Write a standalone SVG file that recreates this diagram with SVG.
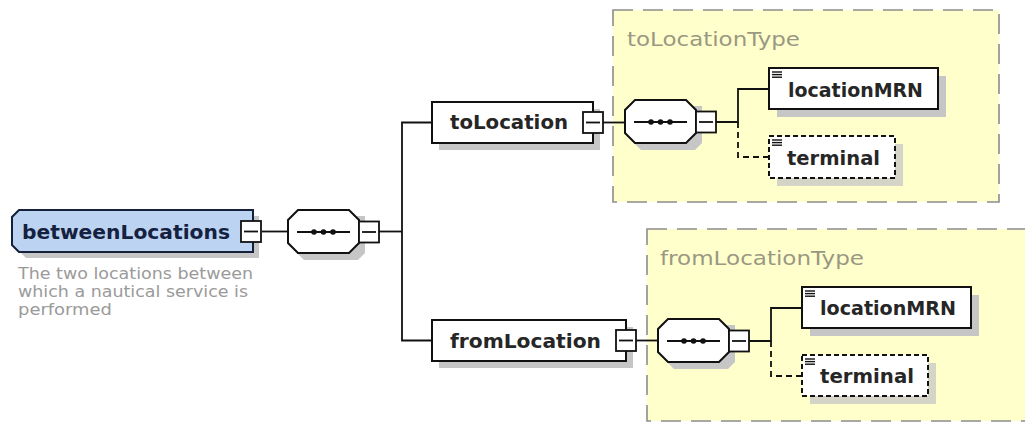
<svg xmlns="http://www.w3.org/2000/svg" width="1025" height="424" viewBox="0 0 1025 424">
  <style>
    .bg { fill: #ffffff; }
    .typebox { fill: #ffffcc; stroke: #8c8c8c; stroke-width: 1.6; stroke-dasharray: 20 10; }
    .typelabel { font-family: "DejaVu Sans", "Verdana", sans-serif; font-size: 20px; fill: #9a9882; }
    .el { fill: #ffffff; stroke: #111111; stroke-width: 2; }
    .el-opt { fill: #ffffff; stroke: #111111; stroke-width: 2; stroke-dasharray: 5 3; }
    .shadow { fill: #c6c6c6; }
    .root { fill: #bcd3f2; stroke: #15203a; stroke-width: 2; }
    .label { font-family: "DejaVu Sans", "Verdana", sans-serif; font-size: 20px; font-weight: bold; fill: #262626; }
    .root-label { font-family: "DejaVu Sans", "Verdana", sans-serif; font-size: 20px; font-weight: bold; fill: #14213f; }
    .doc { font-family: "DejaVu Sans", "Verdana", sans-serif; font-size: 15.5px; fill: #9a9a9a; }
    .wire { fill: none; stroke: #111111; stroke-width: 1.8; }
    .wire-opt { fill: none; stroke: #111111; stroke-width: 1.8; stroke-dasharray: 6 4; }
    .mbox { fill: #ffffff; stroke: #111111; stroke-width: 1.8; }
    .dot { fill: #111111; }
  </style>
  <defs>
    <!-- collapse/expand toggle: 20x21 box with a minus sign -->
    <g id="minus">
      <rect class="mbox" x="0" y="0" width="20" height="21"/>
      <line class="wire" x1="3" y1="10.5" x2="17" y2="10.5"/>
    </g>
    <!-- sequence compositor with its toggle -->
    <g id="seq">
      <path class="shadow" d="M16,6 H77 L77,43 L70,50 H16 L6,40 V16 Z"/>
      <path class="el" d="M10,0 H61 L71,10 V33 L61,43 H10 L0,33 V10 Z"/>
      <line class="wire" x1="9" y1="22" x2="62" y2="22"/>
      <circle class="dot" cx="26" cy="22" r="2.8"/>
      <circle class="dot" cx="35.5" cy="22" r="2.8"/>
      <circle class="dot" cx="45" cy="22" r="2.8"/>
      <use href="#minus" x="71" y="11.5"/>
    </g>
    <!-- "simple content" marker in the top-left corner of an element -->
    <g id="lines">
      <line x1="0" y1="0" x2="10" y2="0" stroke="#111" stroke-width="1.4"/>
      <line x1="0" y1="2.6" x2="10" y2="2.6" stroke="#111" stroke-width="1.4"/>
      <line x1="0" y1="5.2" x2="10" y2="5.2" stroke="#111" stroke-width="1.4"/>
    </g>
  </defs>

  <rect class="bg" x="0" y="0" width="1025" height="424"/>

  <!-- complex type frames -->
  <g id="toLocationType">
    <rect class="typebox" x="613" y="10" width="386" height="192"/>
    <text class="typelabel" x="627" y="46" textLength="173" lengthAdjust="spacingAndGlyphs">toLocationType</text>
  </g>
  <g id="fromLocationType">
    <rect class="typebox" x="647" y="229" width="386" height="192"/>
    <text class="typelabel" x="660" y="265" textLength="204" lengthAdjust="spacingAndGlyphs">fromLocationType</text>
  </g>

  <!-- connectors -->
  <g id="connectors">
    <line class="wire" x1="262" y1="231.5" x2="288" y2="231.5"/>
    <polyline class="wire" points="379,231.5 402,231.5"/>
    <polyline class="wire" points="432,122.5 402,122.5 402,340.5 432,340.5"/>
    <line class="wire" x1="603" y1="122.5" x2="625" y2="122.5"/>
    <line class="wire" x1="636" y1="340.5" x2="658" y2="340.5"/>
    <!-- toLocationType children -->
    <polyline class="wire" points="716,122 738,122 738,89 769,89"/>
    <polyline class="wire-opt" points="738,122 738,157 769,157"/>
    <!-- fromLocationType children -->
    <polyline class="wire" points="749,341 771,341 771,308 802,308"/>
    <polyline class="wire-opt" points="771,341 771,376 802,376"/>
  </g>

  <!-- root element -->
  <g id="betweenLocations">
    <path class="shadow" d="M26,216 H259 V258 H26 L18,250 V224 Z"/>
    <path class="root" d="M19,210 H253 V252 H19 L12,245 V217 Z"/>
    <text class="root-label" x="22" y="239" textLength="208" lengthAdjust="spacingAndGlyphs">betweenLocations</text>
    <use href="#minus" x="241" y="221"/>
    <text class="doc" x="18" y="279" textLength="235" lengthAdjust="spacingAndGlyphs">The two locations between</text>
    <text class="doc" x="18" y="297" textLength="230" lengthAdjust="spacingAndGlyphs">which a nautical service is</text>
    <text class="doc" x="18" y="315" textLength="94" lengthAdjust="spacingAndGlyphs">performed</text>
  </g>

  <g id="seq-root">
    <use href="#seq" x="288" y="210"/>
  </g>

  <g id="toLocation">
    <rect class="shadow" x="439" y="109" width="161" height="41"/>
    <rect class="el" x="432" y="102" width="161" height="41"/>
    <text class="label" x="450" y="129" textLength="118" lengthAdjust="spacingAndGlyphs">toLocation</text>
    <use href="#minus" x="583" y="112"/>
  </g>

  <g id="fromLocation">
    <rect class="shadow" x="439" y="327" width="194" height="41"/>
    <rect class="el" x="432" y="320" width="194" height="41"/>
    <text class="label" x="450" y="348" textLength="151" lengthAdjust="spacingAndGlyphs">fromLocation</text>
    <use href="#minus" x="616" y="330"/>
  </g>

  <g id="seq-toLocation">
    <use href="#seq" x="625" y="100"/>
  </g>

  <g id="seq-fromLocation">
    <use href="#seq" x="658" y="319"/>
  </g>

  <g id="toLocation-locationMRN">
    <rect class="shadow" x="777" y="76" width="169" height="41"/>
    <rect class="el" x="769" y="68" width="169" height="41"/>
    <use href="#lines" x="772" y="72"/>
    <text class="label" x="788" y="97" textLength="135" lengthAdjust="spacingAndGlyphs">locationMRN</text>
  </g>

  <g id="toLocation-terminal">
    <rect class="shadow" x="777" y="144" width="126" height="42" opacity="0.75"/>
    <rect class="el-opt" x="769" y="136" width="126" height="42"/>
    <use href="#lines" x="772" y="140"/>
    <text class="label" x="787" y="165" textLength="93" lengthAdjust="spacingAndGlyphs">terminal</text>
  </g>

  <g id="fromLocation-locationMRN">
    <rect class="shadow" x="810" y="295" width="169" height="41"/>
    <rect class="el" x="802" y="287" width="169" height="41"/>
    <use href="#lines" x="805" y="291"/>
    <text class="label" x="820" y="315" textLength="136" lengthAdjust="spacingAndGlyphs">locationMRN</text>
  </g>

  <g id="fromLocation-terminal">
    <rect class="shadow" x="810" y="363" width="126" height="41" opacity="0.75"/>
    <rect class="el-opt" x="802" y="355" width="126" height="41"/>
    <use href="#lines" x="805" y="359"/>
    <text class="label" x="820" y="383" textLength="94" lengthAdjust="spacingAndGlyphs">terminal</text>
  </g>
</svg>
